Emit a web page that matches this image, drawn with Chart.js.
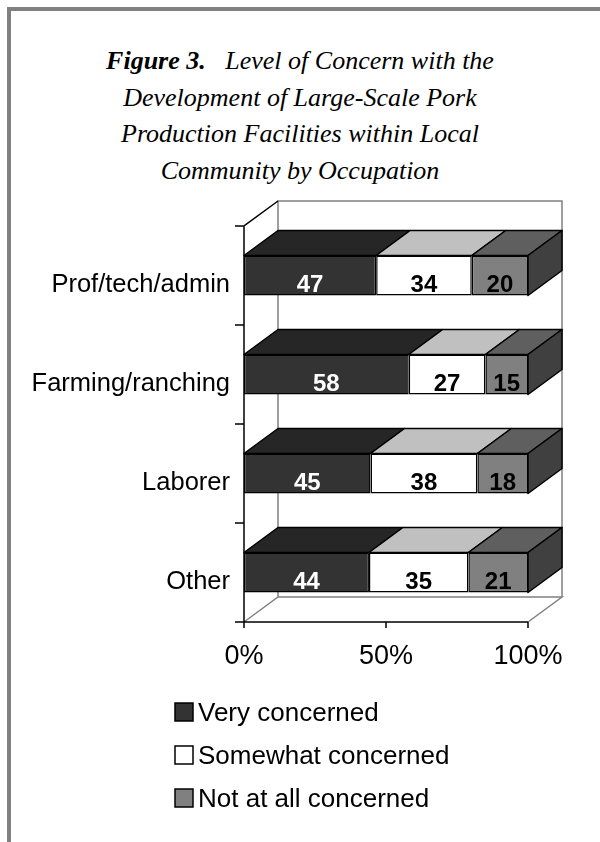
<!DOCTYPE html>
<html>
<head>
<meta charset="utf-8">
<script src="https://cdn.jsdelivr.net/npm/chart.js@4/dist/chart.umd.min.js"></script>
<style>
  html, body { margin: 0; padding: 0; background: #fff; }
  #page { position: relative; width: 600px; height: 842px; overflow: hidden; }
  #frame { position: absolute; left: 7px; top: 7px; right: 0; bottom: 0;
           border-left: 4px solid #808080; border-top: 4px solid #808080; }
  #title { position: absolute; left: 0; top: 43px; width: 600px; text-align: center;
           font-family: "Liberation Serif", "Times New Roman", serif; font-style: italic;
           font-size: 26px; line-height: 36.5px; color: #000; }
  #title b { font-weight: bold; }
  canvas { position: absolute; left: 0; top: 0; }
</style>
</head>
<body>
<div id="page">
  <div id="frame"></div>
  <div id="title"><b>Figure 3.</b>&nbsp;&nbsp; Level of Concern with the<br>Development of Large-Scale Pork<br>Production Facilities within Local<br>Community by Occupation</div>
  <canvas id="myChart" width="600" height="842"></canvas>
</div>
<script>
/*========== DU LIEU ==========*/
const categories = ['Prof/tech/admin', 'Farming/ranching', 'Laborer', 'Other'];
const seriesNames = ['Very concerned', 'Somewhat concerned', 'Not at all concerned'];
const veryConcerned = [47, 58, 45, 44];
const somewhatConcerned = [34, 27, 38, 35];
const notConcerned = [20, 15, 18, 21];
const xTicks = [0, 50, 100];

// mau: mat truoc, mat tren, mat ben
const frontColors = ['#333333', '#ffffff', '#808080'];
const topColors = ['#262626', '#c0c0c0', '#5f5f5f'];
const sideColors = ['#262626', '#c0c0c0', '#404040'];
const labelColors = ['#ffffff', '#000000', '#000000'];

// 100% stacked: chia theo tong moi hang
const rows = [veryConcerned, somewhatConcerned, notConcerned];
const totals = categories.map((c, i) => rows.reduce((s, r) => s + r[i], 0));

const DX = 34, DY = -25;
const FONT = '"Liberation Sans", Arial, sans-serif';

/*========== PLUGIN VE 3D ==========*/
const box3d = {
  id: 'box3d',
  beforeDatasetsDraw(chart) {
    const { ctx, chartArea: a, scales: { x, y } } = chart;
    ctx.save();
    // tuong sau + san (xam)
    ctx.strokeStyle = '#808080';
    ctx.lineWidth = 1.5;
    ctx.beginPath();
    ctx.moveTo(a.left, a.bottom);
    ctx.lineTo(a.left + DX, a.bottom + DY);
    ctx.lineTo(a.right + DX, a.bottom + DY);
    ctx.lineTo(a.right, a.bottom);
    ctx.moveTo(a.left + DX, a.bottom + DY);
    ctx.lineTo(a.left + DX, a.top + DY);
    ctx.lineTo(a.right + DX, a.top + DY);
    ctx.lineTo(a.right + DX, a.bottom + DY);
    ctx.stroke();

    // truc den
    ctx.strokeStyle = '#000';
    ctx.lineWidth = 1.5;
    ctx.beginPath();
    ctx.moveTo(a.left + DX, a.top + DY);
    ctx.lineTo(a.left, a.top);
    ctx.lineTo(a.left, a.bottom + 6);
    ctx.moveTo(a.left, a.bottom);
    ctx.lineTo(a.right, a.bottom);
    for (let i = 0; i <= categories.length; i++) {
      const py = y.getPixelForValue(i - 0.5);
      ctx.moveTo(a.left - 9, py);
      ctx.lineTo(a.left, py);
    }
    xTicks.forEach((v) => {
      const px = x.getPixelForValue(v);
      ctx.moveTo(px, a.bottom);
      ctx.lineTo(px, a.bottom + 6);
    });
    ctx.stroke();

    // nhan
    ctx.fillStyle = '#000';
    ctx.font = '25.5px ' + FONT;
    ctx.textAlign = 'right';
    ctx.textBaseline = 'alphabetic';
    categories.forEach((c, i) => {
      ctx.fillText(c, a.left - 14, y.getPixelForValue(i) + 16.5);
    });
    ctx.font = '27px ' + FONT;
    ctx.textAlign = 'center';
    xTicks.forEach((v) => {
      ctx.fillText(v + '%', x.getPixelForValue(v), a.bottom + 42);
    });

    // chu thich
    ctx.font = '26px ' + FONT;
    ctx.textAlign = 'left';
    seriesNames.forEach((name, i) => {
      const top = 703 + i * 43;
      ctx.fillStyle = frontColors[i];
      ctx.fillRect(175, top, 18, 18);
      ctx.strokeStyle = '#000';
      ctx.lineWidth = 1.5;
      ctx.strokeRect(175, top, 18, 18);
      ctx.fillStyle = '#000';
      ctx.fillText(name, 198, top + 18);
    });
    ctx.restore();
  },
  afterDatasetsDraw(chart) {
    const { ctx } = chart;
    ctx.save();
    ctx.strokeStyle = '#000';
    ctx.lineWidth = 1.5;
    ctx.lineJoin = 'round';
    const n = chart.data.datasets.length;
    chart.data.datasets.forEach((ds, di) => {
      const meta = chart.getDatasetMeta(di);
      meta.data.forEach((bar) => {
        const x0 = bar.base, x1 = bar.x;
        const t = bar.y - bar.height / 2, b = bar.y + bar.height / 2;
        // mat tren
        ctx.fillStyle = topColors[di];
        ctx.beginPath();
        ctx.moveTo(x0, t);
        ctx.lineTo(x0 + DX, t + DY);
        ctx.lineTo(x1 + DX, t + DY);
        ctx.lineTo(x1, t);
        ctx.closePath();
        ctx.fill();
        ctx.stroke();
        // mat ben phai (chi o doan cuoi)
        if (di === n - 1) {
          ctx.fillStyle = sideColors[di];
          ctx.beginPath();
          ctx.moveTo(x1, t);
          ctx.lineTo(x1 + DX, t + DY);
          ctx.lineTo(x1 + DX, b + DY);
          ctx.lineTo(x1, b);
          ctx.closePath();
          ctx.fill();
          ctx.stroke();
        }
      });
    });
    // so lieu
    ctx.font = 'bold 24px ' + FONT;
    ctx.textAlign = 'center';
    ctx.textBaseline = 'alphabetic';
    chart.data.datasets.forEach((ds, di) => {
      chart.getDatasetMeta(di).data.forEach((bar, i) => {
        ctx.fillStyle = labelColors[di];
        ctx.fillText(String(ds.raw[i]), (bar.base + bar.x) / 2, bar.y + 16);
      });
    });
    ctx.restore();
  }
};

/*========== TAO CHART ==========*/
const ctx = document.getElementById('myChart').getContext('2d');

const chart = new Chart(ctx, {
  type: 'bar',
  data: {
    labels: categories,
    datasets: rows.map((r, di) => ({
      label: seriesNames[di],
      raw: r,
      data: r.map((v, i) => v / totals[i] * 100),
      backgroundColor: frontColors[di],
      borderColor: '#000',
      borderWidth: 1.5,
      borderSkipped: false,
      categoryPercentage: 1,
      barPercentage: 0.404
    }))
  },
  options: {
    indexAxis: 'y',
    responsive: false,
    animation: false,
    layout: { padding: { left: 244, right: 72, top: 226, bottom: 220 } },
    plugins: {
      legend: { display: false },
      tooltip: { enabled: false }
    },
    scales: {
      x: { stacked: true, min: 0, max: 100, display: false },
      y: { stacked: true, display: false }
    }
  },
  plugins: [box3d]
});
</script>
</body>
</html>
